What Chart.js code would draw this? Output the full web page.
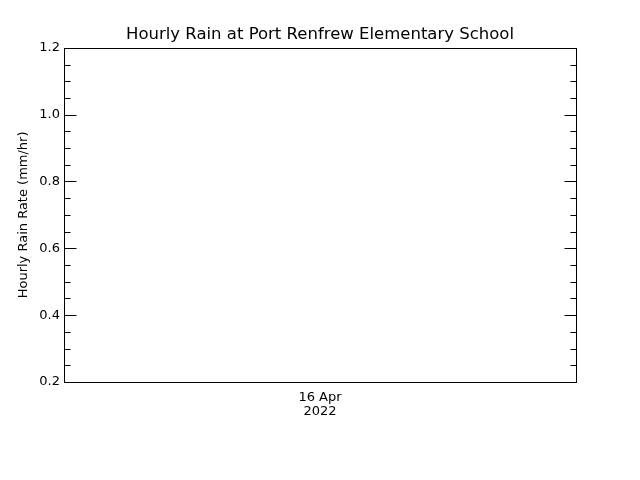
<!DOCTYPE html>
<html>
<head>
<meta charset="utf-8">
<script src="https://cdn.jsdelivr.net/npm/chart.js@4/dist/chart.umd.min.js"></script>
<style>
  html, body { margin: 0; padding: 0; background: #fff; }
  #rainChart { display: block; }
</style>
</head>
<body>
<canvas id="rainChart" width="640" height="480"></canvas>
<script>
// Dados do gráfico
const xLabels = [['16 Apr', '2022']];
const rainRate = [];  // nenhuma chuva registrada no período
const yMajorTicks = [0.2, 0.4, 0.6, 0.8, 1.0, 1.2];
const yMinorTicks = [0.25, 0.3, 0.35, 0.45, 0.5, 0.55, 0.65, 0.7, 0.75,
                     0.85, 0.9, 0.95, 1.05, 1.1, 1.15];

Chart.defaults.font.family = 'DejaVu Sans';
Chart.defaults.color = '#000';

// Moldura e marcas internas no estilo IDL
const boxPlugin = {
    id: 'boxTicks',
    afterDraw(chart) {
        const { ctx, chartArea: a } = chart;
        const y = chart.scales.y;
        const L = Math.round(a.left) + 0.5;
        const R = Math.round(a.right) + 0.5;
        const T = Math.round(a.top) + 0.5;
        const B = Math.round(a.bottom) + 0.5;
        ctx.save();
        ctx.strokeStyle = '#000';
        ctx.lineWidth = 1;
        ctx.strokeRect(L, T, R - L, B - T);
        const mark = (v, len) => {
            const py = Math.round(y.getPixelForValue(v)) + 0.5;
            ctx.beginPath();
            ctx.moveTo(L, py); ctx.lineTo(L + len, py);
            ctx.moveTo(R, py); ctx.lineTo(R - len, py);
            ctx.stroke();
        };
        yMajorTicks.forEach(v => mark(v, 12));
        yMinorTicks.forEach(v => mark(v, 6));
        ctx.restore();
    }
};

const ctx = document.getElementById('rainChart').getContext('2d');
const rainChart = new Chart(ctx, {
    type: 'line',
    data: {
        labels: xLabels,
        datasets: [{
            label: 'Hourly Rain',
            data: rainRate,
            borderColor: '#000',
            borderWidth: 1,
            pointRadius: 0
        }]
    },
    options: {
        responsive: false,
        animation: false,
        devicePixelRatio: 1,
        layout: { padding: 0 },
        plugins: {
            legend: { display: false },
            tooltip: { enabled: false },
            title: {
                display: true,
                text: 'Hourly Rain at Port Renfrew Elementary School',
                font: { size: 16.5, weight: 'normal' },
                color: '#000',
                padding: { top: 25, bottom: 3 }
            }
        },
        scales: {
            x: {
                type: 'category',
                offset: true,
                grid: { display: false, drawTicks: false },
                border: { display: false },
                ticks: {
                    font: { size: 13, lineHeight: 1.1 },
                    padding: 8,
                    maxRotation: 0
                },
                afterFit(scale) { scale.height = 98; }
            },
            y: {
                min: 0.2,
                max: 1.2,
                grid: { display: false, drawTicks: false },
                border: { display: false },
                afterBuildTicks(scale) {
                    scale.ticks = yMajorTicks.map(v => ({ value: v }));
                },
                ticks: {
                    font: { size: 13 },
                    padding: 4,
                    callback: v => Number(v).toFixed(1)
                },
                title: {
                    display: true,
                    text: 'Hourly Rain Rate (mm/hr)',
                    font: { size: 13 },
                    padding: { top: 16, bottom: 0 }
                },
                afterFit(scale) { scale.width = 64; }
            },
            // eixo vazio à direita só para reservar a margem
            yRight: {
                position: 'right',
                min: 0.2,
                max: 1.2,
                grid: { display: false, drawTicks: false },
                border: { display: false },
                ticks: { display: false },
                afterFit(scale) { scale.width = 64; }
            }
        }
    },
    plugins: [boxPlugin]
});
</script>
</body>
</html>
